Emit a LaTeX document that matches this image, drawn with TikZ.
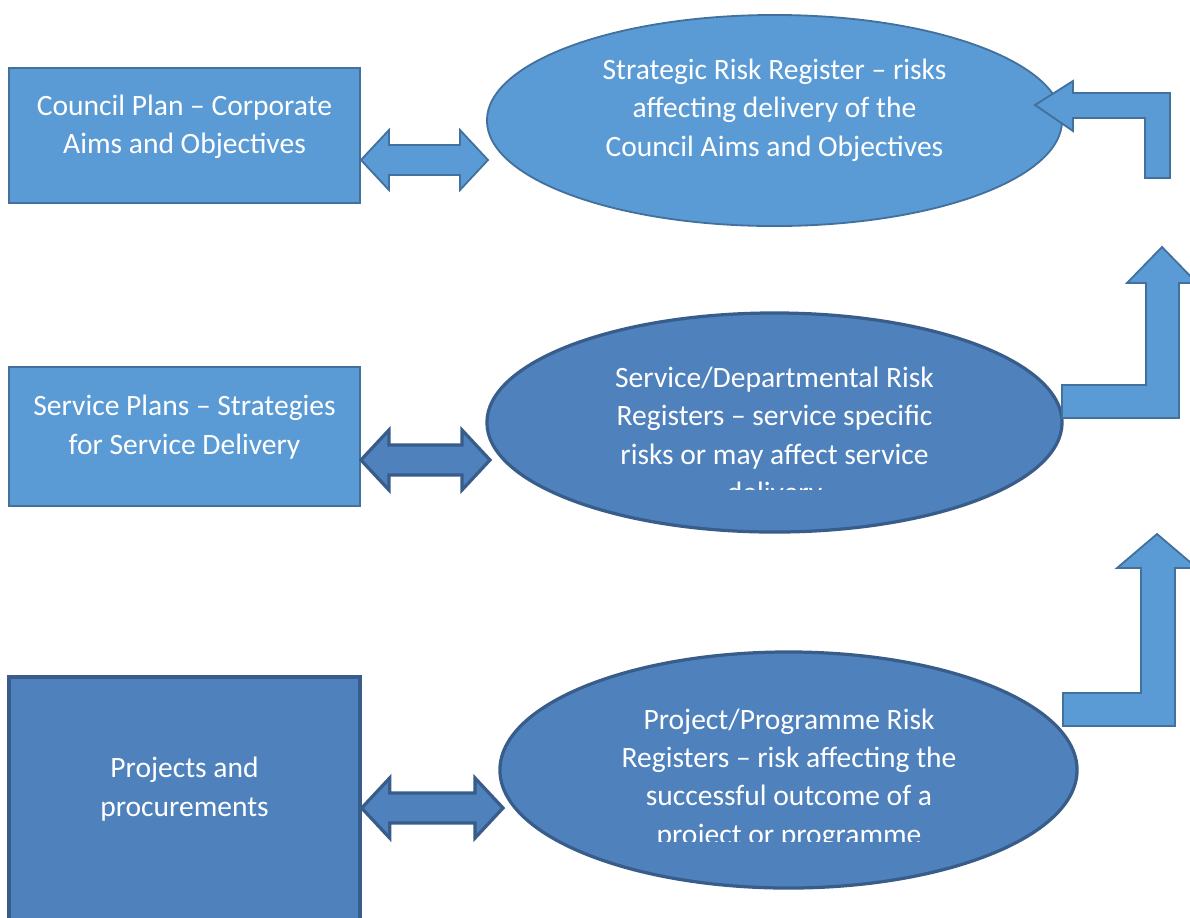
\documentclass[tikz,border=0pt]{standalone}
\usepackage{fontspec}
\setmainfont{Carlito}
\usetikzlibrary{shapes.geometric,calc}

\definecolor{lightfill}{HTML}{5B9BD5}
\definecolor{lightline}{HTML}{41719C}
\definecolor{darkfill}{HTML}{4F81BD}
\definecolor{darkline}{HTML}{385D8A}

\tikzset{
  plainshape/.style={fill=lightfill, draw=lightline, line width=1.3pt, inner sep=0pt},
  boldshape/.style={fill=darkfill, draw=darkline, line width=2.3pt, inner sep=0pt},
  whitetext/.style={text=white, font=\fontsize{21}{27.3}\selectfont, align=center, inner sep=0pt},
}

% block double arrow between two tip coordinates
\newcommand{\dblarrow}[3]{%
  \draw[#1, line join=miter] (#2) -- ++(28,-30) -- ++(0,15) -- ($(#3)+(-28,-15)$) -- ++(0,-15)
    -- (#3) -- ++(-28,30) -- ++(0,-15) -- ($(#2)+(28,15)$) -- ++(0,15) -- cycle;}

\begin{document}
\begin{tikzpicture}[x=0.025cm, y=-0.025cm]
  \clip (0,0) rectangle (1190,917);

  % plans on the left
  \node[plainshape, rectangle, minimum width=8.775cm, minimum height=3.375cm] (plan) at (184.5,135.5) {};
  \node[whitetext] (plantxt) at (184.5,127) {Council Plan -- Corporate\\Aims and Objectives};

  \node[plainshape, rectangle, minimum width=8.775cm, minimum height=3.475cm] (serv) at (184.5,436.5) {};
  \node[whitetext] (servtxt) at (184.5,427) {Service Plans -- Strategies\\for Service Delivery};

  \node[boldshape, rectangle, minimum width=8.775cm, minimum height=6.575cm] (proj) at (184.5,808.5) {};
  \node[whitetext] (projtxt) at (184.5,789) {Projects and\\procurements};

  % risk registers
  \node[plainshape, ellipse, minimum width=14.375cm, minimum height=5.275cm] (strat) at (774.5,120.5) {};
  \node[whitetext] (strattxt) at (774.5,110) {Strategic Risk Register -- risks\\affecting delivery of the\\Council Aims and Objectives};

  \node[boldshape, ellipse, minimum width=14.375cm, minimum height=5.475cm] (dept) at (774.5,422.5) {};
  \begin{scope}
    \clip (500,340) rectangle (1050,489);
    \node[whitetext] (depttxt) at (774.5,437) {Service/Departmental Risk\\Registers -- service specific\\risks or may affect service\\delivery};
  \end{scope}

  \node[boldshape, ellipse, minimum width=14.425cm, minimum height=5.9cm] (prog) at (788.5,770) {};
  \begin{scope}
    \clip (510,680) rectangle (1060,841);
    \node[whitetext] (progtxt) at (789,779) {Project/Programme Risk\\Registers -- risk affecting the\\successful outcome of a\\project or programme};
  \end{scope}

  % two-way links
  \coordinate (a1l) at (plan.east |- 0,160);
  \coordinate (a1r) at (488,160);
  \coordinate (a2l) at (serv.east |- 0,460);
  \coordinate (a2r) at (490,460);
  \coordinate (a3l) at (proj.east |- 0,808);
  \coordinate (a3r) at (503,808);
  \dblarrow{plainshape}{a1l}{a1r}
  \dblarrow{boldshape}{a2l}{a2r}
  \dblarrow{boldshape}{a3l}{a3r}

  % escalation arrows
  \draw[plainshape, line join=miter] (1035,105) -- (1073,81) -- (1073,93) -- (1170,93) -- (1170,178)
    -- (1145,178) -- (1145,118) -- (1073,118) -- (1073,131) -- cycle;
  \draw[plainshape, line join=miter] (1062,385) -- (1146,385) -- (1146,283) -- (1127,283) -- (1162,247)
    -- (1197,283) -- (1179,283) -- (1179,418) -- (1062,418) -- cycle;
  \draw[plainshape, line join=miter] (1063,693) -- (1141,693) -- (1141,568) -- (1117,568) -- (1157,534)
    -- (1197,568) -- (1175,568) -- (1175,726) -- (1063,726) -- cycle;
\end{tikzpicture}
\end{document}
